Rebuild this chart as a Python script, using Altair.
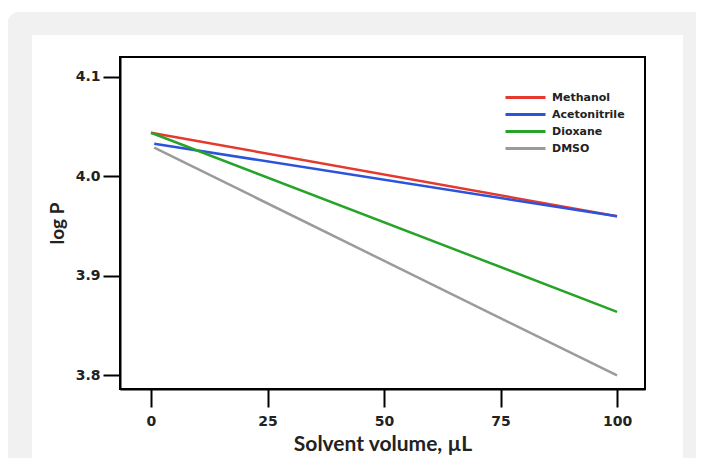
import altair as alt
import pandas as pd

# ---- data ----
solvents = ["Methanol", "Acetonitrile", "Dioxane", "DMSO"]
colors = ["#e5392e", "#2b53db", "#27a32a", "#9b9b9b"]
x_start = [0.0, 0.7, 0.0, 0.7]
x_end = [100.0, 100.0, 100.0, 100.0]
y_start = [4.044, 4.033, 4.044, 4.029]
y_end = [3.960, 3.960, 3.864, 3.800]
x_ticks = [0, 25, 50, 75, 100]
y_ticks = [3.8, 3.9, 4.0, 4.1]

rows = []
for i, s in enumerate(solvents):
    rows.append({"solvent": s, "vol": x_start[i], "logp": y_start[i]})
    rows.append({"solvent": s, "vol": x_end[i], "logp": y_end[i]})
df = pd.DataFrame(rows)

W, H = 525, 332
PAD = {"left": 112, "top": 49, "right": 51, "bottom": 69}
TICK_FONT = "DejaVu Sans"
TITLE_FONT = "Lato"
INK = "#222222"
PANEL = "#f0f1f0"

bg = pd.DataFrame({"k": [0]})
# decorative page frame (gray border around the white card)
left_strip = alt.Chart(bg).mark_rect(fill=PANEL, cornerRadiusTopLeft=24).encode(
    x=alt.value(-113), x2=alt.value(-88), y=alt.value(-45), y2=alt.value(440)
)
top_strip = alt.Chart(bg).mark_rect(fill=PANEL).encode(
    x=alt.value(-88), x2=alt.value(563), y=alt.value(-45), y2=alt.value(-22)
)
right_strip = alt.Chart(bg).mark_rect(fill=PANEL, cornerRadiusTopRight=22).encode(
    x=alt.value(563), x2=alt.value(585), y=alt.value(-45), y2=alt.value(440)
)

lines = alt.Chart(df).mark_line(strokeWidth=2.5).encode(
    x=alt.X(
        "vol:Q",
        scale=alt.Scale(domain=[-6.65, 106.0], nice=False, zero=False),
        axis=alt.Axis(values=x_ticks, title="Solvent volume, µL", labelPadding=7,
                      tickSize=18, titlePadding=5, titleFontWeight="bold",
                      titleFontSize=21),
    ),
    y=alt.Y(
        "logp:Q",
        scale=alt.Scale(domain=[3.7864, 4.1201], nice=False, zero=False),
        axis=alt.Axis(values=y_ticks, format=".1f", title="log P", labelPadding=3,
                      tickSize=17, titlePadding=8, titleFontWeight="bold",
                      titleFontSize=19),
    ),
    color=alt.Color(
        "solvent:N",
        scale=alt.Scale(domain=solvents, range=colors),
        legend=alt.Legend(
            title=None,
            orient="none",
            legendX=399,
            legendY=34,
            symbolType="M-4,0H4",
            symbolSize=100,
            symbolStrokeWidth=3,
            labelOffset=20,
            rowPadding=4,
            padding=0,
        ),
    ),
)

chart = (
    alt.layer(left_strip, top_strip, right_strip, lines)
    .properties(
        width=W,
        height=H,
        padding=PAD,
        autosize=alt.AutoSizeParams(type="none"),
        background="white",
    )
    .configure_view(stroke="black", strokeWidth=2)
    .configure_axis(
        grid=False,
        domainColor="black",
        domainWidth=2,
        tickColor="black",
        tickWidth=2,
        labelFont=TICK_FONT,
        labelFontSize=14,
        labelFontWeight="bold",
        labelColor=INK,
        titleFont=TITLE_FONT,
        titleColor=INK,
    )
    .configure_legend(
        labelFont=TICK_FONT,
        labelFontSize=11,
        labelFontWeight="bold",
        labelColor=INK,
    )
)

chart.save("out.html", embed_options={"renderer": "svg", "actions": False})
